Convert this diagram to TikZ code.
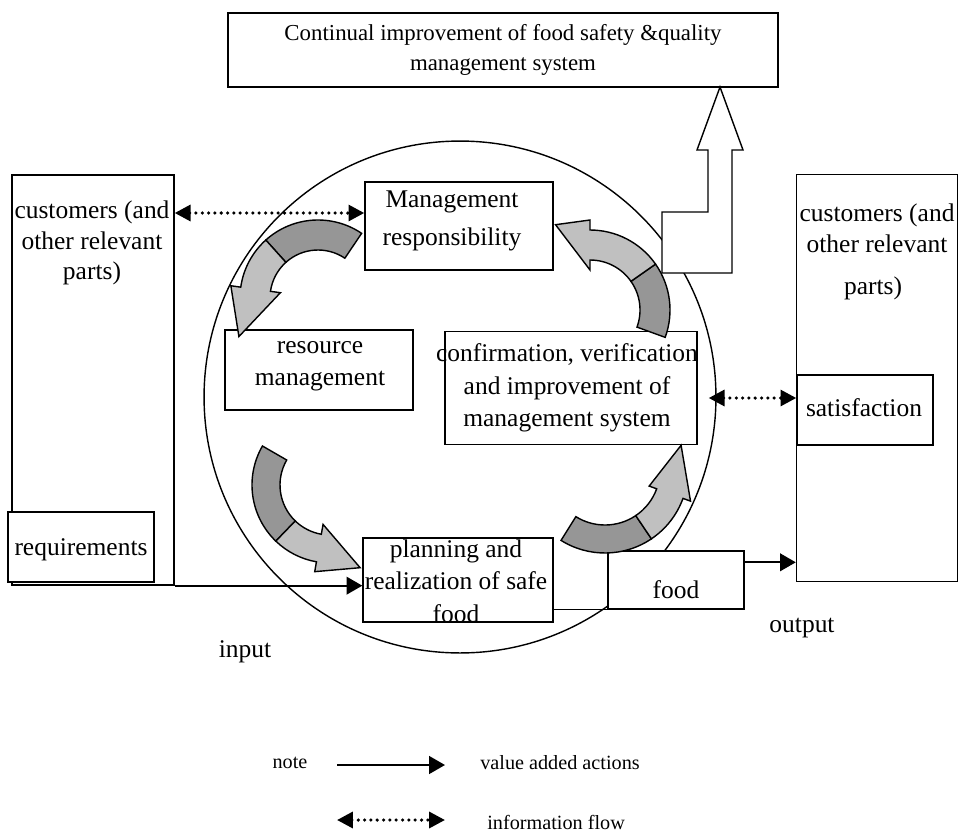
\documentclass[tikz,border=0pt]{standalone}
\usepackage{fontspec}
\setmainfont{Liberation Serif}
\usetikzlibrary{calc,arrows.meta}
\definecolor{arc_dark}{RGB}{150,150,150}
\definecolor{arc_light}{RGB}{192,192,192}
\tikzstyle{box}=[rectangle,draw=black,fill=white,line width=0.8pt,inner sep=0pt]
\tikzstyle{txt}=[align=center,inner sep=0pt,font=\fontsize{14.5}{17.5}\selectfont]
\tikzstyle{keytxt}=[inner sep=0pt,font=\fontsize{11.5}{14}\selectfont]
\tikzstyle{flow}=[line width=1.3pt,-{Triangle[length=9pt,width=10pt]}]
\tikzstyle{info}=[line width=2pt,dash pattern=on 0pt off 3.6pt,line cap=round,
  {Triangle[length=9pt,width=9pt]}-{Triangle[length=9pt,width=9pt]}]
\tikzstyle{darkarc}=[fill=arc_dark,draw=black,line width=0.8pt]
\tikzstyle{lightarc}=[fill=arc_light,draw=black,line width=0.8pt]
% curved block arrow: centre, inner r, outer r, tail angle, colour change, head angle, tip angle, tip r, wing
\newcommand{\cyclearrow}[9]{%
  \filldraw[darkarc] ($(#1)+(#4:#3)$) arc[start angle=#4,end angle=#5,radius=#3]
    -- ($(#1)+(#5:#2)$) arc[start angle=#5,end angle=#4,radius=#2] -- cycle;
  \filldraw[lightarc] ($(#1)+(#5:#3)$) arc[start angle=#5,end angle=#6,radius=#3]
    -- ($(#1)+(#6:#3+#9)$) -- ($(#1)+(#7:#8)$) -- ($(#1)+(#6:#2-#9)$)
    -- ($(#1)+(#6:#2)$) arc[start angle=#6,end angle=#5,radius=#2] -- cycle;
}

\begin{document}
\begin{tikzpicture}[x=0.02cm,y=-0.02cm]
    \useasboundingbox (0,0) rectangle (959,838);
    \node [circle,draw=black,line width=0.8pt,minimum size=10.24cm,inner sep=0pt] (system) at (460,397) {};

    % boxes
    \node [box,txt,font=\fontsize{13}{17}\selectfont,minimum width=11cm,minimum height=1.48cm] (goal) at (503,50) {Continual improvement of food safety \&quality\\management system};
    \node [box,minimum width=3.24cm,minimum height=8.2cm] (lcust) at (93,380) {};
    \node [box,minimum width=2.92cm,minimum height=1.4cm] (req) at (81,547) {};
    \node [box,minimum width=3.22cm,minimum height=8.14cm] (rcust) at (877,378) {};
    \node [box,minimum width=2.72cm,minimum height=1.4cm] (satis) at (865,410) {};
    \node [box,minimum width=3.76cm,minimum height=1.76cm] (mgmt) at (459,226) {};
    \node [box,minimum width=3.76cm,minimum height=1.6cm] (res) at (319,370) {};
    \node [box,minimum width=5.04cm,minimum height=2.26cm] (conf) at (571,388) {};
    \node [box,minimum width=2.72cm,minimum height=1.16cm] (food) at (676,580) {};
    \node [box,minimum width=3.8cm,minimum height=1.68cm] (plan) at (458,580) {};

    % hollow arrow to the top box
    \draw [fill=white,line width=0.8pt] (720,87) -- (743,150) -- (732,150) -- (732,273) -- (662,273)
      -- (662,212) -- (708,212) -- (708,150) -- (697,150) -- cycle;

    % texts
    \node [txt] (lcust-text) at (92,243) {customers (and\\other relevant\\parts)};
    \node [txt] (req-text) at (81,550) {requirements};
    \node [txt] (rcust-text) at (877,228) {customers (and\\other relevant};
    \node [txt] (rcust-parts) at (873,288) {parts)};
    \node [txt] (satis-text) at (864,408) {satisfaction};
    \node [txt] (mgmt-text) at (452,221) {Management\\[4pt]responsibility};
    \node [txt] (res-text) at (320,366) {resource\\[1pt]management};
    \node [txt] (conf-text) at (567,388) {confirmation, verification\\[1pt]and improvement of\\[1pt]management system};
    \node [txt] (plan-text) at (456,581) {planning and\\[1pt]realization of safe\\[1pt]food};
    \node [txt] (food-text) at (676,590) {food};
    \node [txt] (input) at (245,652) {input};
    \node [txt] (output) at (802,628) {output};

    % cycle arrows
    \coordinate (arcA) at (318,298);
    \coordinate (arcB) at (330,485);
    \coordinate (arcC) at (605,470);
    \coordinate (arcD) at (590,310);
    \cyclearrow{arcA}{48}{78}{-56}{-132}{-172}{-206}{88}{10}
    \cyclearrow{arcB}{50}{78}{210}{134}{100}{70}{88}{10}
    \cyclearrow{arcC}{55}{83}{122}{56}{20}{-18}{80}{8}
    \cyclearrow{arcD}{50}{80}{20}{-35}{-90}{-112}{92}{10}

    % flows
    \draw [line width=0.8pt] (food.south west) -- (food.south west -| plan.east);
    \draw [flow] (lcust.south east) -- (lcust.south east -| plan.west);
    \coordinate (outA) at ([yshift=-0.24cm]food.north east);
    \draw [flow] (outA) -- (outA -| rcust.west);
    \coordinate (infoA) at ([yshift=0.26cm]mgmt.west);
    \draw [info] (infoA -| lcust.east) -- (infoA);
    \coordinate (infoB) at ([yshift=0.24cm]satis.west);
    \draw [info] ([xshift=0.22cm]infoB -| conf.east) -- (infoB);

    % legend
    \node [keytxt] (note) at (290,763) {note};
    \coordinate (keyA1) at (337,765);
    \coordinate (keyA2) at (445,765);
    \draw [flow] (keyA1) -- (keyA2);
    \node [keytxt,anchor=west] (value) at (480,763) {value added actions};
    \coordinate (keyB1) at (337,820);
    \coordinate (keyB2) at (445,820);
    \draw [info] (keyB1) -- (keyB2);
    \node [keytxt,anchor=west] (infoflow) at (487,822) {information flow};
  \end{tikzpicture}
\end{document}
